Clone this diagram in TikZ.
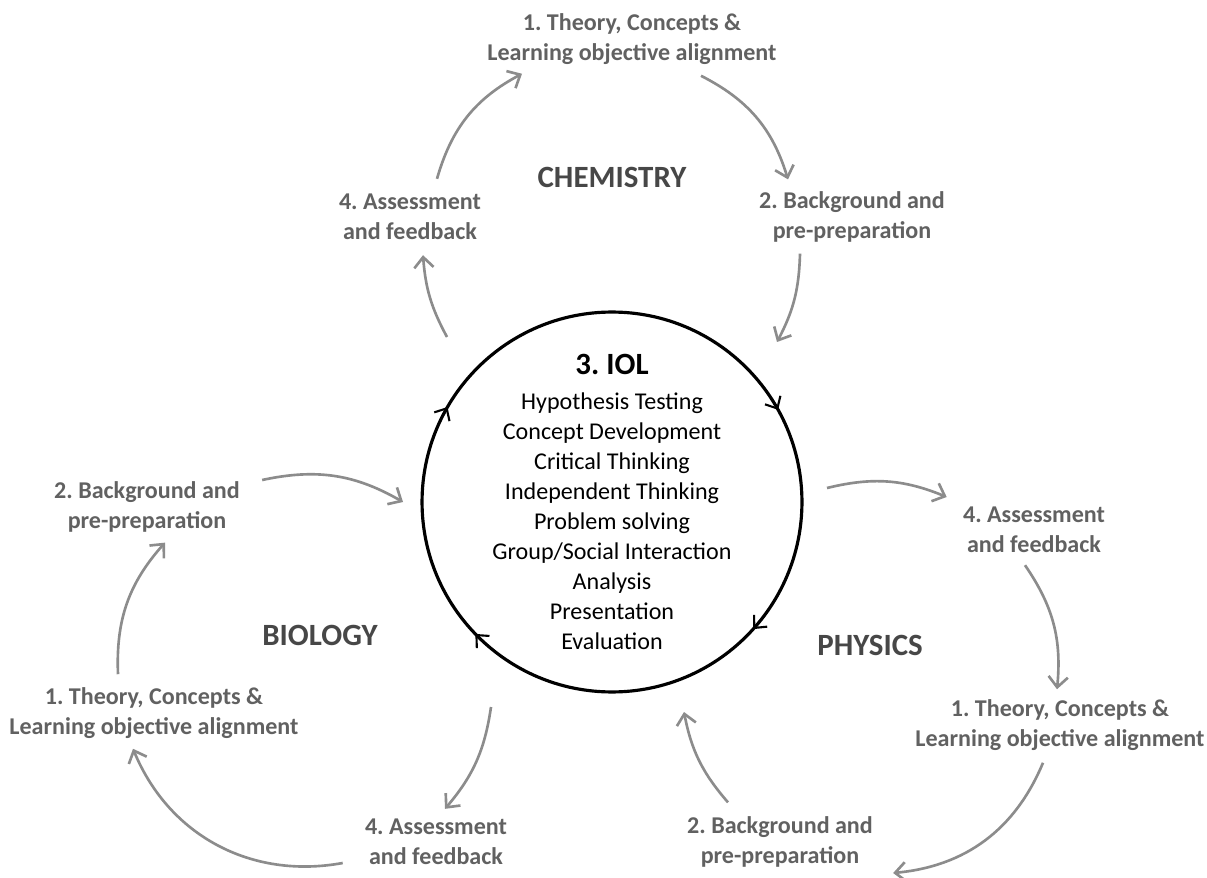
\documentclass[tikz,border=0pt]{standalone}
\usepackage{fontspec}
\setmainfont{Carlito}
\usepackage{tikz}
\usetikzlibrary{arrows.meta}
\frenchspacing

\begin{document}
\begin{tikzpicture}[x=0.02cm,y=0.02cm]
	\tikzstyle{stage}=[align=center,inner sep=0pt,text=black!62,font=\fontsize{13.7}{17}\selectfont\bfseries]
	\tikzstyle{subject}=[inner sep=0pt,text=black!72,font=\fontsize{17.6}{20}\selectfont\bfseries]
	\tikzstyle{cyc}=[draw=black!45,line width=1.5pt,-{Straight Barb[length=6pt,width=11pt]}]
	\useasboundingbox[fill=white] (0,0) rectangle (1207,-878);
	% centre circle
	\node[circle,draw,line width=1.8pt,minimum size=7.6cm,inner sep=0pt](IOL) at (612,-502) {};
	\node[align=center,inner sep=0pt,font=\fontsize{13.7}{17.07}\selectfont](IOLtext) at (IOL.center) {{\fontsize{17.6}{20}\selectfont\bfseries 3. IOL}\\[3pt]Hypothesis Testing\\Concept Development\\Critical Thinking\\Independent Thinking\\Problem solving\\Group/Social Interaction\\Analysis\\Presentation\\Evaluation};
	\foreach \a in {29,-42,-136,150}
		\draw[line width=1.2pt,-{Straight Barb[length=5.5pt,width=10pt]}] ([shift={(\a+5:3.8cm)}]IOL.center) arc[start angle=\a+5,end angle=\a,radius=3.8cm];
	% chemistry
	\node[subject](CHEM) at (612,-177) {CHEMISTRY};
	\node[stage](C1) at (632,-39) {1. Theory, Concepts \&\\Learning objective alignment};
	\node[stage](C2) at (852,-217) {2. Background and\\pre-preparation};
	\node[stage](C4) at (410,-217) {4. Assessment\\and feedback};
	\draw[cyc] ([shift={(27,15)}]C4.north) to[bend left=23] ([shift={(-110,-9)}]C1.south);
	\draw[cyc] ([shift={(69,-11)}]C1.south) to[bend left=23] ([shift={(-64,12)}]C2.north);
	\draw[cyc] ([shift={(-52,-11)}]C2.south) to[bend left=13] ([shift={(165,160)}]IOL.center);
	\draw[cyc] ([shift={(-165,165)}]IOL.center) to[bend left=12] ([shift={(13,-15)}]C4.south);
	% biology
	\node[subject](BIO) at (320,-635) {BIOLOGY};
	\node[stage](B1) at (154,-713) {1. Theory, Concepts \&\\Learning objective alignment};
	\node[stage](B2) at (147,-507) {2. Background and\\pre-preparation};
	\node[stage](B4) at (436,-842) {4. Assessment\\and feedback};
	\draw[cyc] ([shift={(22,27)}]B2.east) to[bend left=21] ([shift={(-209,0)}]IOL.center);
	\draw[cyc] ([shift={(-36,13)}]B1.north) to[bend left=22] ([shift={(18,-10)}]B2.south);
	\draw[cyc] ([shift={(-22,-21)}]B4.west) to[bend left=39] ([shift={(-21,-10)}]B1.south);
	\draw[cyc] ([shift={(-121,-205)}]IOL.center) to[bend left=16] ([shift={(9,10)}]B4.north);
	% physics
	\node[subject](PHY) at (870,-645) {PHYSICS};
	\node[stage](P1) at (1060,-725) {1. Theory, Concepts \&\\Learning objective alignment};
	\node[stage](P2) at (780,-842) {2. Background and\\pre-preparation};
	\node[stage](P4) at (1034,-530) {4. Assessment\\and feedback};
	\draw[cyc] ([shift={(215,14)}]IOL.center) to[bend left=18] ([shift={(-16,33)}]P4.west);
	\draw[cyc] ([shift={(-9,-12)}]P4.south) to[bend left=20] ([shift={(-3,10)}]P1.north);
	\draw[cyc] ([shift={(-17,-12)}]P1.south) to[bend left=31] ([shift={(20,-31)}]P2.east);
	\draw[cyc] ([shift={(-52,14)}]P2.north) to[bend left=15] ([shift={(72,-210)}]IOL.center);
\end{tikzpicture}
\end{document}
